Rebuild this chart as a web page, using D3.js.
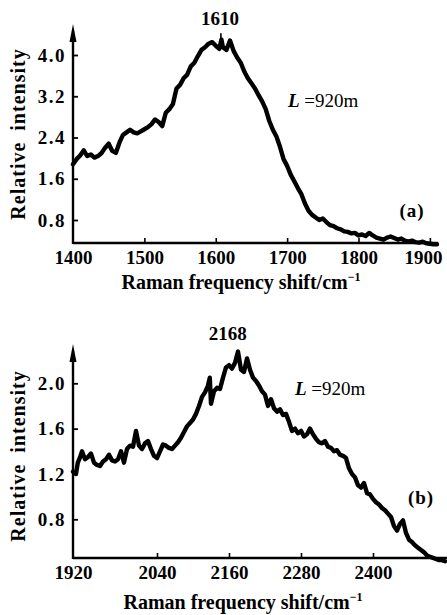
<!DOCTYPE html>
<html><head><meta charset="utf-8">
<script src="https://cdn.jsdelivr.net/npm/d3@7"></script>
<style>
html,body{margin:0;padding:0;background:#fff;}
svg{display:block;}
text{font-family:"Liberation Serif","Times New Roman",serif;fill:#000;}
</style></head>
<body>
<svg id="chart" width="447" height="615"></svg>
<script>
// ---------- data ----------
const shiftA = [1400,1405,1410,1415,1420,1425,1430,1435,1440,1445,1450,1455,1460,1465,1470,1475,1480,1485,1490,1495,1500,1505,1510,1515,1520,1525,1530,1535,1540,1545,1550,1555,1560,1565,1570,1575,1580,1585,1590,1595,1600,1605,1608,1610,1615,1620,1625,1630,1635,1640,1645,1650,1655,1660,1665,1670,1675,1680,1685,1690,1695,1700,1705,1710,1715,1720,1725,1730,1735,1740,1745,1750,1755,1760,1765,1770,1775,1780,1785,1790,1795,1800,1805,1810,1815,1820,1825,1830,1835,1840,1845,1850,1855,1860,1865,1870,1875,1880,1885,1890,1895,1900,1905,1910];
const intensityA = [1.88,1.98,2.05,2.15,2.04,2.07,2.01,2.04,2.10,2.20,2.28,2.14,2.10,2.30,2.45,2.50,2.55,2.50,2.48,2.52,2.56,2.60,2.66,2.75,2.70,2.62,2.88,2.95,3.05,3.35,3.42,3.55,3.62,3.78,3.85,3.98,4.10,4.15,4.22,4.25,4.18,4.12,4.30,4.15,4.10,4.28,4.08,3.95,3.85,3.68,3.55,3.45,3.35,3.22,3.10,2.95,2.72,2.55,2.42,2.22,1.98,1.85,1.68,1.55,1.42,1.30,1.12,0.98,0.90,0.85,0.80,0.83,0.76,0.70,0.68,0.64,0.62,0.58,0.57,0.54,0.55,0.50,0.52,0.49,0.55,0.50,0.46,0.44,0.42,0.46,0.48,0.45,0.42,0.44,0.40,0.38,0.40,0.37,0.36,0.38,0.35,0.34,0.33,0.33];

const shiftB = [1900,1905,1908,1912,1915,1920,1925,1930,1935,1940,1945,1950,1955,1960,1965,1970,1975,1980,1985,1990,1995,2000,2005,2010,2015,2020,2025,2030,2035,2040,2045,2050,2055,2060,2065,2070,2075,2080,2085,2090,2095,2100,2105,2110,2115,2120,2125,2128,2130,2135,2140,2145,2150,2155,2160,2165,2170,2175,2180,2185,2190,2195,2200,2205,2210,2215,2220,2225,2230,2235,2240,2245,2250,2255,2260,2265,2270,2275,2280,2285,2290,2295,2300,2305,2310,2315,2320,2325,2330,2335,2340,2345,2350,2355,2360,2365,2370,2375,2380,2385,2390,2395,2400,2405,2410,2415,2420,2425,2430,2435,2440,2445,2450,2455,2460,2465,2470,2475,2480,2485,2490,2495,2500,2505,2510,2515,2520];
const intensityB = [1.22,1.20,1.30,1.35,1.40,1.33,1.35,1.38,1.30,1.28,1.27,1.31,1.33,1.37,1.32,1.31,1.33,1.40,1.30,1.42,1.45,1.44,1.58,1.45,1.42,1.47,1.49,1.42,1.36,1.34,1.40,1.46,1.45,1.43,1.42,1.45,1.48,1.52,1.57,1.62,1.65,1.68,1.73,1.80,1.88,1.92,1.98,2.05,1.82,1.93,1.96,1.95,2.05,2.14,2.16,2.13,2.18,2.28,2.12,2.10,2.22,2.12,2.05,2.02,1.98,1.93,1.90,1.80,1.86,1.78,1.75,1.77,1.72,1.73,1.66,1.58,1.60,1.56,1.58,1.53,1.55,1.60,1.55,1.51,1.48,1.47,1.49,1.44,1.43,1.40,1.41,1.37,1.36,1.34,1.25,1.20,1.17,1.10,1.08,1.12,1.03,1.02,0.98,0.95,0.93,0.90,0.88,0.85,0.82,0.74,0.70,0.76,0.79,0.68,0.62,0.60,0.57,0.55,0.53,0.51,0.48,0.47,0.46,0.45,0.44,0.44,0.43];

const xTicksA = [1400,1500,1600,1700,1800,1900];
const xTickLabelsA = ["1400","1500","1600","1700","1800","1900"];
const yTicksA = [0.8,1.6,2.4,3.2,4.0];
const xTicksB = [1900,2040,2160,2280,2400];
const xTickLabelsB = ["1920","2040","2160","2280","2400"];
const yTicksB = [0.8,1.2,1.6,2.0];
const peakA = 1610, peakB = 2168;
const labelL = "920m";

// ---------- drawing ----------
const svg = d3.select("#chart");

function panel(cfg){
  const g = svg.append("g");
  const x = d3.scaleLinear().domain(cfg.xd).range(cfg.xr);
  const y = d3.scaleLinear().domain(cfg.yd).range(cfg.yr);
  const x0 = cfg.axisX0, x1 = cfg.axisX1, yb = cfg.axisY, yt = cfg.axisTop;

  // line
  const line = d3.line().x(d=>x(d[0])).y(d=>y(d[1]));
  const pts = cfg.xs.map((v,i)=>[v, cfg.ys[i]]);
  g.append("path").datum(pts).attr("d", line)
    .attr("fill","none").attr("stroke","#000").attr("stroke-width",4.4)
    .attr("stroke-linejoin","round").attr("stroke-linecap","round");

  // y axis
  const ya = d3.axisLeft(y).tickValues(cfg.yTicks).tickSize(-5).tickPadding(7)
    .tickFormat(d=>d3.format(".1f")(d));
  const yg = g.append("g").attr("transform",`translate(${x0},0)`).call(ya);
  yg.select(".domain").remove();
  yg.selectAll(".tick line").attr("stroke","#000").attr("stroke-width",1.8);
  yg.selectAll(".tick text").style("font-size","19px").style("font-weight","bold")
    .style("letter-spacing","1.5px").attr("fill","#000");

  // x axis
  const xa = d3.axisBottom(x).tickValues(cfg.xTicks).tickSize(-5).tickPadding(8)
    .tickFormat((d,i)=>cfg.xLabels[i]);
  const xg = g.append("g").attr("transform",`translate(0,${yb})`).call(xa);
  xg.select(".domain").remove();
  xg.selectAll(".tick line").attr("stroke","#000").attr("stroke-width",1.6)
    .filter((d,i)=>i===0).remove();
  xg.selectAll(".tick text").style("font-size","19px").style("font-weight","bold").attr("fill","#000")
    .attr("dx",(d,i)=> i===cfg.xTicks.length-1 ? cfg.lastDx : 0);

  // axis lines
  g.append("line").attr("x1",x0).attr("x2",x1).attr("y1",yb).attr("y2",yb)
    .attr("stroke","#000").attr("stroke-width",2.4);
  g.append("line").attr("x1",x0).attr("x2",x0).attr("y1",yb+1).attr("y2",yt+10)
    .attr("stroke","#000").attr("stroke-width",2.4);
  g.append("path").attr("d",`M${x0},${yt} L${x0-3.5},${yt+18} L${x0+3.5},${yt+18} Z`).attr("fill","#000");

  // labels
  g.append("text").attr("transform",`translate(${cfg.yLabX},${cfg.yLabY}) rotate(-90)`)
    .attr("text-anchor","middle").attr("dominant-baseline","middle")
    .style("font-size","20px").style("font-weight","bold").style("letter-spacing","1px").style("word-spacing","5px")
    .text("Relative intensity");
  const xt = g.append("text").attr("x",cfg.xLabX).attr("y",cfg.xLabY).attr("text-anchor","middle")
    .style("font-size","20px").style("font-weight","bold");
  xt.append("tspan").text("Raman frequency shift/cm");
  xt.append("tspan").attr("dy",-8).style("font-size","12px").text("\u22121");

  // peak label
  g.append("text").attr("x",x(cfg.peak)+cfg.peakDx).attr("y",cfg.peakY).attr("text-anchor","middle")
    .style("font-size","19px").style("font-weight","bold").text(String(cfg.peak));
  if (cfg.marker){
    g.append("line").attr("x1",x(cfg.peak)-2).attr("x2",x(cfg.peak)-2)
      .attr("y1",y(cfg.markerTop)).attr("y2",y(cfg.markerTop)+12).attr("stroke","#000").attr("stroke-width",1.6);
  }
  const lt = g.append("text").attr("x",cfg.lX).attr("y",cfg.lY).style("font-size","19px");
  lt.append("tspan").style("font-style","italic").style("font-weight","bold").text("L");
  lt.append("tspan").text(" =" + labelL);
  g.append("text").attr("x",cfg.tagX).attr("y",cfg.tagY).attr("text-anchor","middle")
    .style("font-size","19px").style("font-weight","bold").style("letter-spacing","1px").text(cfg.tag);
}

panel({
  xs: shiftA, ys: intensityA,
  xd:[1400,1800], xr:[73,358.5], yd:[0.8,4.0], yr:[220,55],
  axisX0:73, axisX1:438, axisY:243, axisTop:24,
  xTicks:xTicksA, xLabels:xTickLabelsA, yTicks:yTicksA, lastDx:-7,
  yLabX:20, yLabY:134, xLabX:241, xLabY:289,
  peak:peakA, peakDx:-3, peakY:25, marker:true, markerTop:4.42,
  lX:288, lY:107, tag:"(a)", tagX:412, tagY:217
});

panel({
  xs: shiftB, ys: intensityB,
  xd:[2040,2400], xr:[157,373], yd:[0.8,2.0], yr:[519.3,383.3],
  axisX0:73, axisX1:447, axisY:558, axisTop:344,
  xTicks:xTicksB, xLabels:xTickLabelsB, yTicks:yTicksB, lastDx:0,
  yLabX:20, yLabY:456, xLabX:243, xLabY:609,
  peak:peakB, peakDx:-6, peakY:340, marker:false,
  lX:295, lY:395, tag:"(b)", tagX:421, tagY:504
});
</script>
</body></html>
